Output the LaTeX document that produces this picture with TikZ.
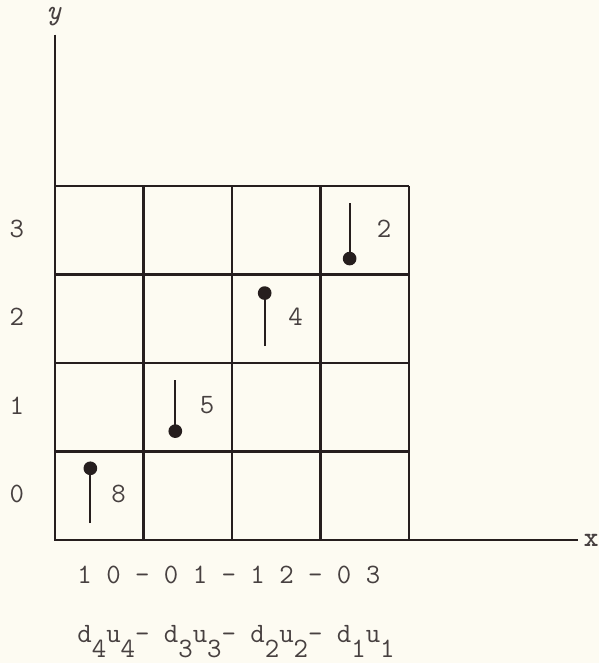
\documentclass[tikz,border=0pt]{standalone}
\definecolor{paper}{RGB}{253,251,242}
\definecolor{ink}{RGB}{38,30,30}
\usepackage{tikz}
\newcommand{\lowdig}[1]{\raisebox{-7pt}{#1}}

\begin{document}
\begin{tikzpicture}[x=1.5cm,y=1.5cm,
  font=\fontsize{13.5}{16}\selectfont\ttfamily,
  every node/.style={text=ink!85, inner sep=0pt},
  pin/.style={circle, fill=ink, minimum size=6.6pt}]

% --- Page ---
\fill[paper] (-0.621,-1.39) rectangle (6.147,6.102);
\useasboundingbox (-0.621,-1.39) rectangle (6.147,6.102);

% --- Grid of cells ---
\draw[ink, line width=1.3pt, step=1.5cm] (0,0) grid (4,4);

% Axes
\draw[ink, line width=1.3pt] (0,5.71) -- (0,0) -- (5.91,0);
\node (ylbl) at (-0.01,5.91) {\itshape y};
\node (xlbl) at (6.06,-0.01) {\bfseries x};

% Row numbers
\foreach \r in {0,...,3}{
  \node (row\r) at (-0.43,\r+0.52) {\r};
}

% --- Pins with their values ---
\foreach \c/\sx/\dy/\val in {
  0/0.40/0.81/8,
  1/0.36/0.23/5,
  2/0.37/0.79/4,
  3/0.33/0.18/2
}{
  \coordinate (lo\c) at (\c+\sx,\c+0.19);
  \coordinate (hi\c) at (\c+\sx,\c+0.81);
  \draw[ink, line width=1.1pt] (lo\c) -- (hi\c);
  \node[pin] (dot\c) at (\c+\sx,\c+\dy) {};
  \node (val\c) at (\c+0.72,\c+0.52) {\val};
}

% Codes under the axis
\node[anchor=base west] (codes) at (0.25,-0.49) {1 0 - 0 1 - 1 2 - 0 3};
\node[anchor=base west] (names) at (0.25,-1.16)
  {d\lowdig{4}u\lowdig{4}- d\lowdig{3}u\lowdig{3}- d\lowdig{2}u\lowdig{2}- d\lowdig{1}u\lowdig{1}};

\end{tikzpicture}
\end{document}
